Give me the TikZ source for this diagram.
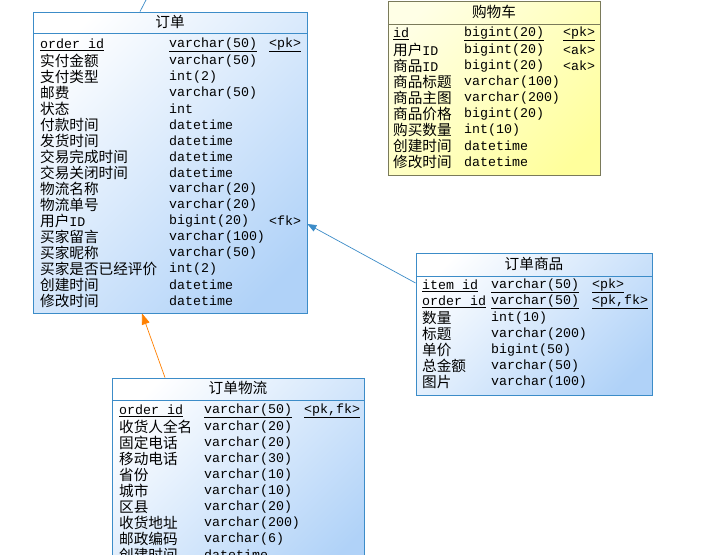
\documentclass[tikz,border=0pt]{standalone}
\usepackage{fontspec}
\setmainfont{Liberation Mono}
\newfontfamily\cjk[Scale=1.1]{Noto Sans CJK SC}
\newcommand{\C}[1]{{\cjk #1}}
\usetikzlibrary{arrows.meta}
\definecolor{bord}{HTML}{3C8CC8}
\definecolor{bluefill}{HTML}{B0D2F8}
\definecolor{yel}{HTML}{FFFF9C}
\definecolor{ybord}{HTML}{7A7A5A}
\pgfdeclarehorizontalshading{bluesh}{100bp}{color(0bp)=(white); color(22bp)=(white); color(78bp)=(bluefill); color(100bp)=(bluefill)}
\pgfdeclarehorizontalshading{yelsh}{100bp}{color(0bp)=(yel!25); color(22bp)=(yel!25); color(78bp)=(yel); color(100bp)=(yel)}
\tikzset{
  bluetbl/.style={draw=bord, line width=0.8pt, shade, shading=bluesh, shading angle=-45},
  yeltbl/.style={draw=ybord, line width=0.8pt, shade, shading=yelsh, shading angle=-45},
  cell/.style={anchor=west, inner sep=0pt, font=\fontsize{13.3}{14}\selectfont},
  ttl/.style={inner sep=0pt, font=\fontsize{13.3}{14}\selectfont},
  conn/.style={line width=0.7pt},
}
\begin{document}
\begin{tikzpicture}[x=1pt,y=-1pt]
\useasboundingbox (0,0) rectangle (703,554);
\clip (0,0) rectangle (703,554);
\fill[white] (0,0) rectangle (703,554);

% ---- 订单
\node[bluetbl, minimum width=274pt, minimum height=301pt, inner sep=0pt] (ord) at (170,162.5) {};
\draw[bord, line width=0.8pt] (33,33) -- (307,33);
\node[ttl] (ordt) at (170,22) {\C{订单}};
\foreach \n/\t/\k [count=\i from 0] in {
 {\underline{order id}}/{\underline{varchar(50)}}/{\underline{<pk>}},
 \C{实付金额}/varchar(50)/{},
 \C{支付类型}/int(2)/{},
 \C{邮费}/varchar(50)/{},
 \C{状态}/int/{},
 \C{付款时间}/datetime/{},
 \C{发货时间}/datetime/{},
 \C{交易完成时间}/datetime/{},
 \C{交易关闭时间}/datetime/{},
 \C{物流名称}/varchar(20)/{},
 \C{物流单号}/varchar(20)/{},
 \C{用户}ID/bigint(20)/<fk>,
 \C{买家留言}/varchar(100)/{},
 \C{买家昵称}/varchar(50)/{},
 \C{买家是否已经评价}/int(2)/{},
 \C{创建时间}/datetime/{},
 \C{修改时间}/datetime/{}}{
  \node[cell] (on\i) at (40,45+16*\i) {\n};
  \node[cell] (ot\i) at (169,45+16*\i) {\t};
  \node[cell] (ok\i) at (269,45+16*\i) {\k};
}

% ---- 购物车
\node[yeltbl, minimum width=212pt, minimum height=174pt, inner sep=0pt] (cart) at (494,88) {};
\draw[ybord, line width=0.8pt] (388,24) -- (600,24);
\node[ttl] (cartt) at (494,12) {\C{购物车}};
\foreach \n/\t/\k [count=\i from 0] in {
 {\underline{id}}/{\underline{bigint(20)}}/{\underline{<pk>}},
 \C{用户}ID/bigint(20)/<ak>,
 \C{商品}ID/bigint(20)/<ak>,
 \C{商品标题}/varchar(100)/{},
 \C{商品主图}/varchar(200)/{},
 \C{商品价格}/bigint(20)/{},
 \C{购买数量}/int(10)/{},
 \C{创建时间}/datetime/{},
 \C{修改时间}/datetime/{}}{
  \node[cell] (cn\i) at (393,34+16*\i) {\n};
  \node[cell] (ct\i) at (464,34+16*\i) {\t};
  \node[cell] (ck\i) at (563,34+16*\i) {\k};
}

% ---- 订单商品
\node[bluetbl, minimum width=236pt, minimum height=142pt, inner sep=0pt] (item) at (534,324) {};
\draw[bord, line width=0.8pt] (416,276) -- (652,276);
\node[ttl] (itemt) at (534,264) {\C{订单商品}};
\foreach \n/\t/\k [count=\i from 0] in {
 {\underline{item id}}/{\underline{varchar(50)}}/{\underline{<pk>}},
 {\underline{order id}}/{\underline{varchar(50)}}/{\underline{<pk,fk>}},
 \C{数量}/int(10)/{},
 \C{标题}/varchar(200)/{},
 \C{单价}/bigint(50)/{},
 \C{总金额}/varchar(50)/{},
 \C{图片}/varchar(100)/{}}{
  \node[cell] (in\i) at (422,286+16*\i) {\n};
  \node[cell] (it\i) at (491,286+16*\i) {\t};
  \node[cell] (ik\i) at (592,286+16*\i) {\k};
}

% ---- 订单物流
\node[bluetbl, minimum width=252pt, minimum height=200pt, inner sep=0pt] (log) at (238,478) {};
\draw[bord, line width=0.8pt] (112,400) -- (364,400);
\node[ttl] (logt) at (238,388) {\C{订单物流}};
\foreach \n/\t/\k [count=\i from 0] in {
 {\underline{order id}}/{\underline{varchar(50)}}/{\underline{<pk,fk>}},
 \C{收货人全名}/varchar(20)/{},
 \C{固定电话}/varchar(20)/{},
 \C{移动电话}/varchar(30)/{},
 \C{省份}/varchar(10)/{},
 \C{城市}/varchar(10)/{},
 \C{区县}/varchar(20)/{},
 \C{收货地址}/varchar(200)/{},
 \C{邮政编码}/varchar(6)/{},
 \C{创建时间}/datetime/{}}{
  \node[cell] (ln\i) at (119,411+16*\i) {\n};
  \node[cell] (lt\i) at (204,411+16*\i) {\t};
  \node[cell] (lk\i) at (304,411+16*\i) {\k};
}

% ---- connectors
\coordinate (topfree) at (146,0);
\draw[conn, bord] (topfree) -- (ord.north -| 140,0);
\draw[conn, bord, -{Triangle[length=9pt,width=7pt]}] (item.west |- 0,283) -- (ord.east |- 0,224);
\draw[conn, orange, -{Triangle[length=11pt,width=8pt]}] (log.north -| 165,0) -- (ord.south -| 142,0);
\end{tikzpicture}
\end{document}
